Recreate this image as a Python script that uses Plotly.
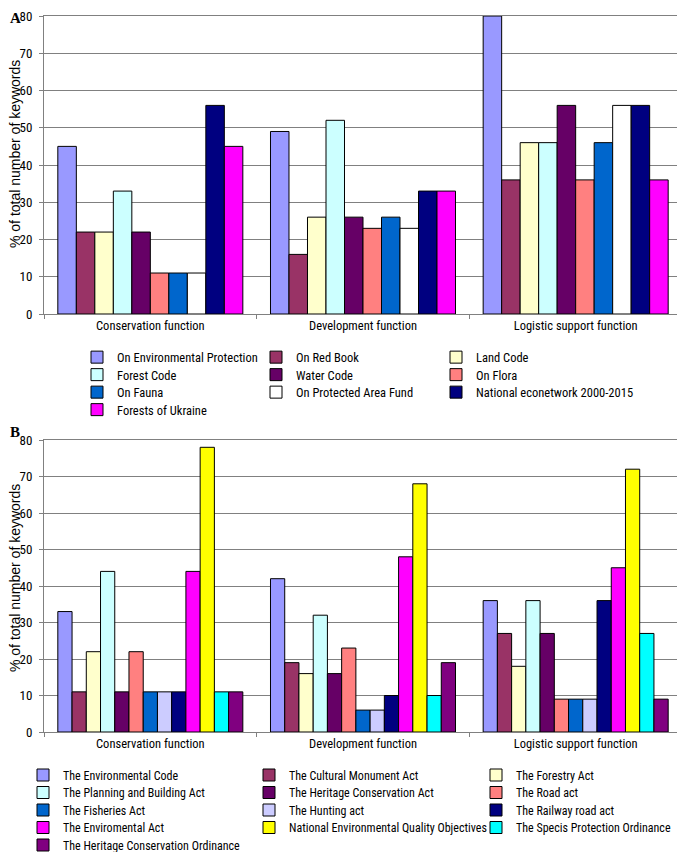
import plotly.graph_objects as go

# categories shared by both panels
functions = ["Conservation function", "Development function", "Logistic support function"]

# panel A - Ukrainian laws
laws_a = ["On Environmental Protection", "On Red Book", "Land Code", "Forest Code",
          "Water Code", "On Flora", "On Fauna", "On Protected Area Fund",
          "National econetwork 2000-2015", "Forests of Ukraine"]
colors_a = ["#9999FF", "#993366", "#FFFFCC", "#CCFFFF", "#660066",
            "#FF8080", "#0066CC", "#FFFFFF", "#000080", "#FF00FF"]
env_protection = [45, 49, 80]
red_book = [22, 16, 36]
land_code = [22, 26, 46]
forest_code = [33, 52, 46]
water_code = [22, 26, 56]
on_flora = [11, 23, 36]
on_fauna = [11, 26, 46]
protected_area = [11, 23, 56]
econetwork = [56, 33, 56]
forests_ukraine = [45, 33, 36]
values_a = [env_protection, red_book, land_code, forest_code, water_code,
            on_flora, on_fauna, protected_area, econetwork, forests_ukraine]

# panel B - Swedish laws
laws_b = ["The Environmental Code", "The Cultural Monument Act", "The Forestry Act",
          "The Planning and Building Act", "The Heritage Conservation Act", "The Road act",
          "The Fisheries Act", "The Hunting act", "The Railway road act",
          "The Enviromental Act", "National Environmental Quality Objectives",
          "The Specis Protection Ordinance", "The Heritage Conservation Ordinance"]
colors_b = ["#9999FF", "#993366", "#FFFFCC", "#CCFFFF", "#660066", "#FF8080",
            "#0066CC", "#CCCCFF", "#000080", "#FF00FF", "#FFFF00", "#00FFFF", "#800080"]
environmental_code = [33, 42, 36]
cultural_monument = [11, 19, 27]
forestry_act = [22, 16, 18]
planning_building = [44, 32, 36]
heritage_act = [11, 16, 27]
road_act = [22, 23, 9]
fisheries_act = [11, 6, 9]
hunting_act = [11, 6, 9]
railway_act = [11, 10, 36]
enviromental_act = [44, 48, 45]
quality_objectives = [78, 68, 72]
specis_ordinance = [11, 10, 27]
heritage_ordinance = [11, 19, 9]
values_b = [environmental_code, cultural_monument, forestry_act, planning_building,
            heritage_act, road_act, fisheries_act, hunting_act, railway_act,
            enviromental_act, quality_objectives, specis_ordinance, heritage_ordinance]

yticks = [0, 10, 20, 30, 40, 50, 60, 70, 80]

# the page body keeps its default 8px margin, so the figure is drawn 8px in
OFF = 8
W, H = 685 - OFF, 852 - OFF

def px(x):
    return (x - OFF) / W

def py(y):
    return 1 - (y - OFF) / H

# legend grid in page pixels: text start of each column, centre of each row
cols_a = [117, 296, 476]
rows_a = [357, 374.5, 392, 409.5]
cols_b = [63, 289, 516]
rows_b = [775, 792.5, 810, 827.5, 845]

def legname(n):
    return "legend" if n == 1 else "legend%d" % n

fig = go.Figure()
legends = {}
n = 0
for i, (name, col, vals) in enumerate(zip(laws_a, colors_a, values_a)):
    n += 1
    fig.add_trace(go.Bar(
        x=functions, y=vals, name=name, xaxis="x", yaxis="y",
        marker=dict(color=col, line=dict(color="black", width=1)),
        legend=legname(n),
    ))
    legends[legname(n)] = (cols_a[i % 3], rows_a[i // 3], 12.5)

for i, (name, col, vals) in enumerate(zip(laws_b, colors_b, values_b)):
    n += 1
    fig.add_trace(go.Bar(
        x=functions, y=vals, name=name, xaxis="x2", yaxis="y2",
        marker=dict(color=col, line=dict(color="black", width=1)),
        legend=legname(n),
    ))
    legends[legname(n)] = (cols_b[i % 3], rows_b[i // 3], 12)

FONT = "Roboto Condensed, Liberation Sans, Arial"
xdom = [px(44), px(682)]

def xax(anchor):
    return dict(domain=xdom, anchor=anchor, type="category", showline=True,
                linecolor="#808080", mirror=True, ticks="outside", tickson="boundaries",
                ticklen=4, tickcolor="#808080", showgrid=False,
                tickfont=dict(family=FONT, size=12.5, color="black"))

def yax(dom, anchor):
    return dict(domain=dom, anchor=anchor, range=[0, 80], tickvals=yticks,
                showline=True, linecolor="#808080", mirror=True, ticks="outside",
                ticklen=4, tickcolor="#808080", gridcolor="#808080", gridwidth=1,
                ticklabelstandoff=4, zeroline=False, ticklabeloverflow="allow",
                tickfont=dict(family=FONT, size=13, color="black"))

layout_legends = {}
for key, (tx, ty, fs) in legends.items():
    layout_legends[key] = dict(
        x=(tx - 40 - OFF) / W, y=py(ty - 14.5), xanchor="left", yanchor="top",
        bgcolor="rgba(0,0,0,0)", itemwidth=30,
        font=dict(family=FONT, size=fs, color="black"))

ylab = "% of total number of keywords"
panel_font = dict(family="Liberation Serif, Times New Roman", size=15, color="black")
fig.update_layout(
    width=W, height=H, margin=dict(l=0, r=0, t=0, b=0, autoexpand=False),
    paper_bgcolor="white", plot_bgcolor="white",
    barmode="group", bargap=0.13, bargroupgap=0,
    xaxis=xax("y"), yaxis=yax([py(314), py(16)], "x"),
    xaxis2=xax("y2"), yaxis2=yax([py(732), py(440)], "x2"),
    showlegend=True,
    **layout_legends,
    annotations=[
        dict(text="<b>A</b>", x=0, y=1, xref="paper", yref="paper", xanchor="left",
             yanchor="top", showarrow=False, font=panel_font),
        dict(text="<b>B</b>", x=0, y=py(422), xref="paper", yref="paper", xanchor="left",
             yanchor="top", showarrow=False, font=panel_font),
        dict(text=ylab, textangle=-90, x=px(15), y=py(154),
             xref="paper", yref="paper", xanchor="center", yanchor="middle", showarrow=False,
             font=dict(family="Liberation Sans, Arial", size=14, color="black")),
        dict(text=ylab, textangle=-90, x=px(15), y=py(578),
             xref="paper", yref="paper", xanchor="center", yanchor="middle", showarrow=False,
             font=dict(family="Liberation Sans, Arial", size=14, color="black")),
    ],
)

fig.write_html("out.html")
